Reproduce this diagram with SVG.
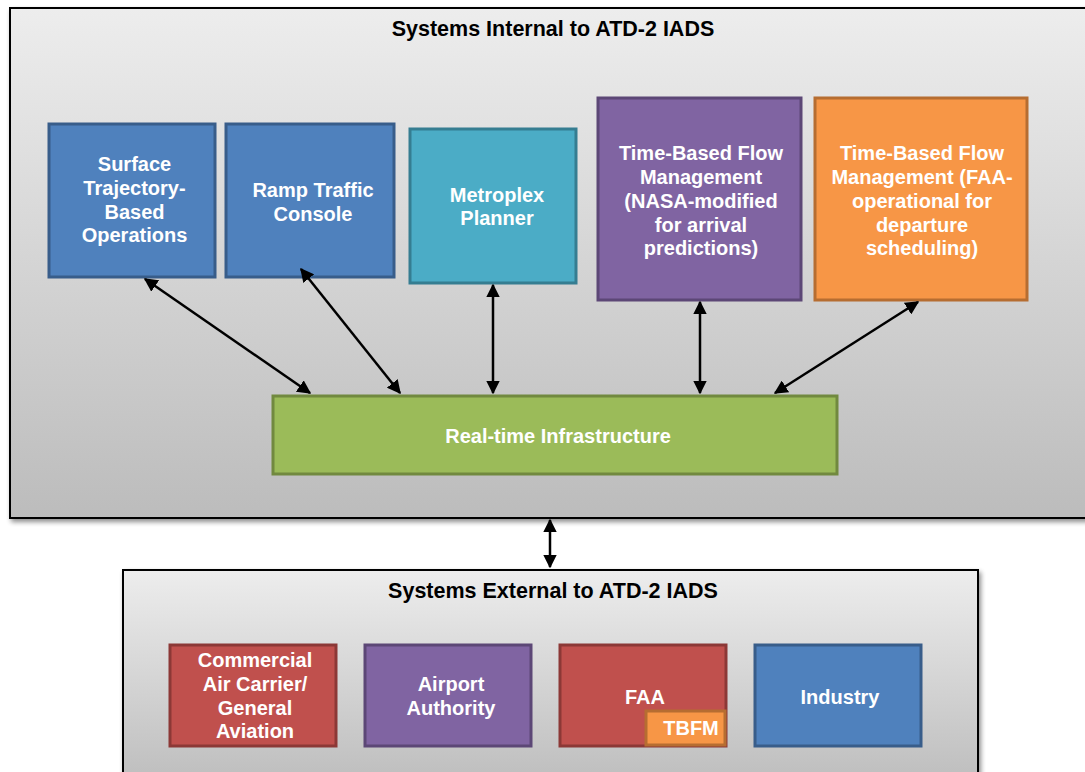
<svg xmlns="http://www.w3.org/2000/svg" width="1085" height="772" viewBox="0 0 1085 772">
<defs>
<linearGradient id="bg" x1="0" y1="0" x2="0" y2="1">
<stop offset="0" stop-color="#ededed"/>
<stop offset="1" stop-color="#bcbcbc"/>
</linearGradient>
<filter id="sh" x="-5%" y="-5%" width="110%" height="110%">
<feGaussianBlur in="SourceAlpha" stdDeviation="2.5"/>
<feOffset dx="2" dy="3"/>
<feComponentTransfer><feFuncA type="linear" slope="0.45"/></feComponentTransfer>
<feMerge><feMergeNode/><feMergeNode in="SourceGraphic"/></feMerge>
</filter>
<marker id="ah" viewBox="0 0 10 10" refX="9" refY="5" markerWidth="5.5" markerHeight="5.5" orient="auto-start-reverse" markerUnits="strokeWidth">
<path d="M0,0 L10,5 L0,10 z" fill="#000"/>
</marker>
</defs>
<style>
.frame{fill:url(#bg);stroke:#000;stroke-width:2}
.title{font-family:"Liberation Sans",Arial,sans-serif;font-weight:bold;font-size:21.5px;fill:#000;text-anchor:middle}
.lbl{font-family:"Liberation Sans",Arial,sans-serif;font-weight:bold;font-size:20px;fill:#fff;text-anchor:middle}
.blue{fill:#4f81bd;stroke:#385d8a;stroke-width:3}
.teal{fill:#4bacc6;stroke:#357d91;stroke-width:3}
.purple{fill:#8064a2;stroke:#5c4776;stroke-width:3}
.orange{fill:#f79646;stroke:#b66d31;stroke-width:3}
.green{fill:#9bbb59;stroke:#71893f;stroke-width:3}
.red{fill:#c0504d;stroke:#8c3836;stroke-width:3}
.conn line{stroke:#000;stroke-width:2.5;marker-start:url(#ah);marker-end:url(#ah)}
</style>
<rect width="1085" height="772" fill="#fff"/>
<g id="internal">
<rect class="frame" x="10" y="8" width="1090" height="510" filter="url(#sh)"/>
<text class="title" x="553" y="36">Systems Internal to ATD-2 IADS</text>
</g>
<g id="external">
<rect class="frame" x="123" y="570" width="855" height="220" filter="url(#sh)"/>
<text class="title" x="553" y="598">Systems External to ATD-2 IADS</text>
</g>
<g id="stbo">
<rect class="blue" x="49" y="124" width="166" height="153"/>
<text class="lbl" x="134.5" y="171">Surface</text>
<text class="lbl" x="134.5" y="195">Trajectory-</text>
<text class="lbl" x="134.5" y="219">Based</text>
<text class="lbl" x="134.5" y="242">Operations</text>
</g>
<g id="ramp">
<rect class="blue" x="226" y="124" width="168" height="153"/>
<text class="lbl" x="313" y="197">Ramp Traffic</text>
<text class="lbl" x="313" y="221">Console</text>
</g>
<g id="metroplex">
<rect class="teal" x="410" y="129" width="166" height="154"/>
<text class="lbl" x="497" y="202">Metroplex</text>
<text class="lbl" x="497" y="225">Planner</text>
</g>
<g id="tbfm-nasa">
<rect class="purple" x="598" y="98" width="203" height="202"/>
<text class="lbl" x="701" y="160">Time-Based Flow</text>
<text class="lbl" x="701" y="184">Management</text>
<text class="lbl" x="701" y="208">(NASA-modified</text>
<text class="lbl" x="701" y="232">for arrival</text>
<text class="lbl" x="701" y="255">predictions)</text>
</g>
<g id="tbfm-faa">
<rect class="orange" x="815" y="98" width="212" height="202"/>
<text class="lbl" x="922" y="160">Time-Based Flow</text>
<text class="lbl" x="922" y="184">Management (FAA-</text>
<text class="lbl" x="922" y="208">operational for</text>
<text class="lbl" x="922" y="232">departure</text>
<text class="lbl" x="922" y="255">scheduling)</text>
</g>
<g id="rti">
<rect class="green" x="273" y="396" width="564" height="78"/>
<text class="lbl" x="558" y="443">Real-time Infrastructure</text>
</g>
<g id="commercial">
<rect class="red" x="170" y="645" width="166" height="101"/>
<text class="lbl" x="255" y="667">Commercial</text>
<text class="lbl" x="255" y="691">Air Carrier/</text>
<text class="lbl" x="255" y="715">General</text>
<text class="lbl" x="255" y="738">Aviation</text>
</g>
<g id="airport">
<rect class="purple" x="365" y="645" width="166" height="101"/>
<text class="lbl" x="451" y="691">Airport</text>
<text class="lbl" x="451" y="715">Authority</text>
</g>
<g id="faa">
<rect class="red" x="560" y="645" width="166" height="101"/>
<text class="lbl" x="645" y="704">FAA</text>
</g>
<g id="tbfm-small">
<rect class="orange" x="646" y="711" width="79" height="34"/>
<text class="lbl" x="691" y="735">TBFM</text>
</g>
<g id="industry">
<rect class="blue" x="755" y="645" width="166" height="101"/>
<text class="lbl" x="840" y="704">Industry</text>
</g>
<g id="connectors" class="conn">
<line x1="145" y1="279" x2="310" y2="393"/>
<line x1="301" y1="269" x2="400" y2="393"/>
<line x1="493" y1="285" x2="493" y2="393"/>
<line x1="700" y1="302" x2="700" y2="393"/>
<line x1="918" y1="302" x2="775" y2="393"/>
<line x1="550" y1="520" x2="550" y2="567"/>
</g>
</svg>
